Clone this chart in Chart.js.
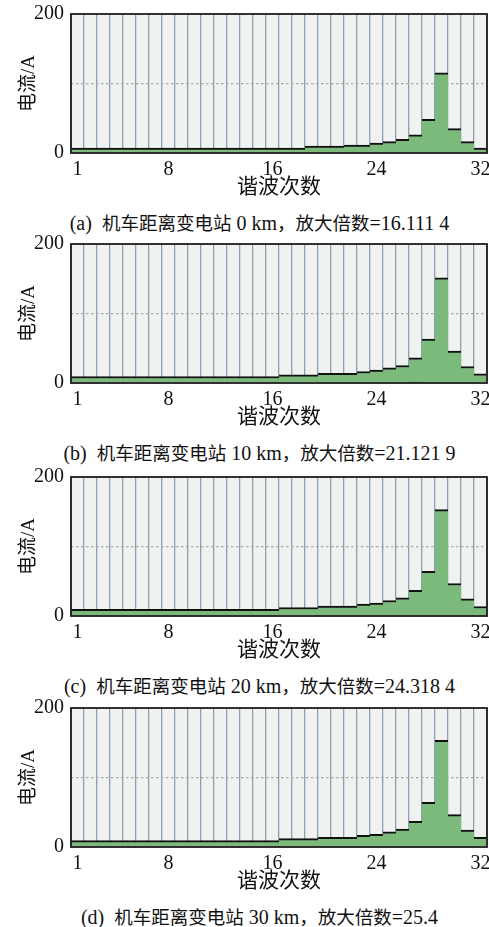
<!DOCTYPE html>
<html lang="zh">
<head>
<meta charset="utf-8">
<title>谐波电流</title>
<script src="https://cdn.jsdelivr.net/npm/chart.js@4.4.1/dist/chart.umd.min.js"></script>
<style>
  html, body { margin: 0; padding: 0; background: #fff; }
  #page   { position: relative; width: 489px; height: 927px; overflow: hidden; }
  .panel  { position: absolute; left: 0; width: 489px; height: 200px; }
  .caption {
    position: absolute; left: 0; width: 489px; padding-left: 30px; box-sizing: border-box;
    text-align: center; white-space: pre; color: #111;
    font: 20px 'Liberation Serif', serif; line-height: 22px;
  }
  .caption .cjk { font: 18.5px 'Noto Sans CJK SC', sans-serif; }
</style>
</head>
<body>
<div id="page"></div>
<script>
/* ── Data ───────────────────────────────────────────────────────────────── */
const harmonicOrders = [1, 2, 3, 4, 5, 6, 7, 8, 9, 10, 11, 12, 13, 14, 15, 16,
                        17, 18, 19, 20, 21, 22, 23, 24, 25, 26, 27, 28, 29, 30, 31, 32];
const shownOrders    = [1, 8, 16, 24, 32];
const yLabelled      = [0, 200];

const current0km  = [7.2, 7.2, 7.2, 7.2, 7.2, 7.2, 7.2, 7.2, 7.2, 7.2, 7.2, 7.2, 7.2, 7.2, 7.2, 7.2,
                     7.2, 7.2, 10, 10, 10, 11.5, 11.5, 14.4, 16.3, 19.6, 26.3, 48.3, 115.3, 35, 16.3, 7.2];
const current10km = [9.3, 9.3, 9.3, 9.3, 9.3, 9.3, 9.3, 9.3, 9.3, 9.3, 9.3, 9.3, 9.3, 9.3, 9.3, 9.3,
                     11.9, 11.9, 11.9, 13.8, 13.8, 13.8, 16.6, 18.5, 21.9, 25.2, 36.1, 63.2, 151.5, 46, 23.7, 13.3];
const current20km = [9.5, 9.5, 9.5, 9.5, 9.5, 9.5, 9.5, 9.5, 9.5, 9.5, 9.5, 9.5, 9.5, 9.5, 9.5, 9.5,
                     12.2, 12.2, 12.2, 14.2, 14.2, 14.2, 17, 18.6, 22.3, 26, 37, 64.4, 153, 46.8, 24.7, 13.7];
const current30km = [9.1, 9.1, 9.1, 9.1, 9.1, 9.1, 9.1, 9.1, 9.1, 9.1, 9.1, 9.1, 9.1, 9.1, 9.1, 9.1,
                     12, 12, 12, 13.9, 13.9, 13.9, 16.8, 18.2, 22, 25.9, 36.9, 64.3, 153.5, 46.5, 24.5, 13.9];

const captions = [
  '(a)  机车距离变电站 0 km，放大倍数=16.111 4',
  '(b)  机车距离变电站 10 km，放大倍数=21.121 9',
  '(c)  机车距离变电站 20 km，放大倍数=24.318 4',
  '(d)  机车距离变电站 30 km，放大倍数=25.4',
];
const series = [current0km, current10km, current20km, current30km];

/* ── Layout / style ─────────────────────────────────────────────────────── */
const PANEL_TOPS = [0, 230, 463, 694];
const FONT       = "'Liberation Serif', 'Noto Sans CJK SC', serif";
const INK        = '#111';

/* light plot background + dark frame round the chart area */
const plotFrame = {
  id: 'plotFrame',
  beforeDraw(chart) {
    const { ctx, chartArea: a } = chart;
    ctx.save();
    ctx.fillStyle = '#f0f2f0';
    ctx.fillRect(a.left, a.top, a.right - a.left, a.bottom - a.top);
    ctx.restore();
  },
  afterDraw(chart) {
    const { ctx, chartArea: a } = chart;
    ctx.save();
    ctx.strokeStyle = '#1c1c1c';
    ctx.lineWidth   = 1.8;
    ctx.strokeRect(a.left, a.top, a.right - a.left, a.bottom - a.top);
    ctx.restore();
  },
};

function _makeChart(canvas, values) {
  return new Chart(canvas.getContext('2d'), {
    type: 'bar',
    data: {
      labels: harmonicOrders,
      datasets: [{
        data:               values,
        backgroundColor:    '#7cba7c',
        borderColor:        INK,
        borderWidth:        { top: 2, right: 0, bottom: 0, left: 0 },
        borderSkipped:      false,
        barPercentage:      1,
        categoryPercentage: 1,
      }],
    },
    options: {
      responsive: false,
      animation:  false,
      layout:     { padding: { top: 14, right: 2, bottom: 0, left: 0 } },
      plugins:    { legend: { display: false }, tooltip: { enabled: false } },
      scales: {
        x: {
          offset: true,
          z: 1,
          afterFit: s => { s.height = 47; s.paddingLeft = 0; s.paddingRight = 0; },
          grid:   { offset: true, drawTicks: false, color: '#8c9fb4', lineWidth: 1.3 },
          border: { display: false },
          ticks: {
            autoSkip: false, maxRotation: 0, padding: 5, color: INK,
            font: { family: FONT, size: 20 },
            callback(v) {
              const lab = this.getLabelForValue(v);
              return shownOrders.includes(lab) ? String(lab) : '';
            },
          },
          title: { display: true, text: '谐波次数', color: INK, padding: 0,
                   font: { family: FONT, size: 21 } },
        },
        y: {
          min: 0, max: 200,
          afterFit: s => { s.width = 71; s.paddingTop = 0; s.paddingBottom = 0; },
          grid:   { drawTicks: false, lineWidth: 1.2,
                    color: c => (c.tick && c.tick.value === 100 ? '#a8a8a8' : 'transparent') },
          border: { display: false, dash: [2.5, 2.5] },
          ticks: {
            stepSize: 100, padding: 7, color: INK,
            font: { family: FONT, size: 20 },
            callback: v => (yLabelled.includes(v) ? v : ''),
          },
          title: { display: true, text: '电流/A', color: INK, padding: { top: 18, bottom: 0 },
                   font: { family: FONT, size: 19 } },
        },
      },
    },
    plugins: [plotFrame],
  });
}

/* CJK runs of a caption get their own font, the rest stays serif */
function _fillCaption(el, text) {
  text.split(/([\u3000-\u9fff\uff00-\uffef]+)/).forEach(part => {
    if (!part) return;
    if (/[\u3000-\u9fff\uff00-\uffef]/.test(part)) {
      const s = document.createElement('span');
      s.className = 'cjk';
      s.textContent = part;
      el.appendChild(s);
    } else {
      el.appendChild(document.createTextNode(part));
    }
  });
}

/* ── Build the four panels ──────────────────────────────────────────────── */
const page = document.getElementById('page');

series.forEach((values, i) => {
  const canvas = document.createElement('canvas');
  canvas.className = 'panel';
  canvas.width  = 489;
  canvas.height = 200;
  canvas.style.top = PANEL_TOPS[i] + 'px';
  page.appendChild(canvas);

  const cap = document.createElement('div');
  cap.className = 'caption';
  cap.style.top = (PANEL_TOPS[i] + 209) + 'px';
  _fillCaption(cap, captions[i]);
  page.appendChild(cap);

  _makeChart(canvas, values);
});
</script>
</body>
</html>
